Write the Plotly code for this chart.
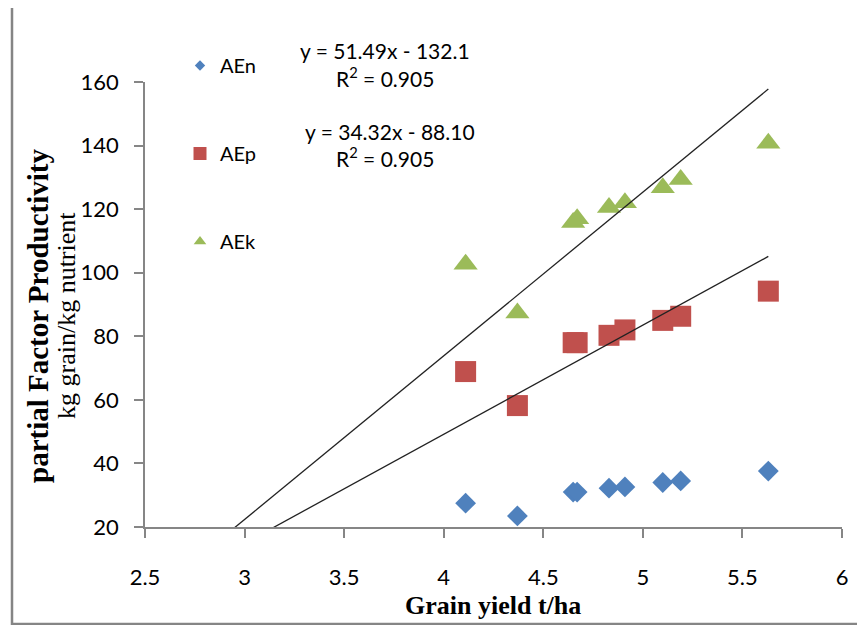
import plotly.graph_objects as go

# ---- data ----
grain_yield = [4.11, 4.37, 4.65, 4.67, 4.83, 4.91, 5.10, 5.19, 5.63]
aen = [27.5, 23.5, 31.0, 31.0, 32.2, 32.6, 34.0, 34.5, 37.6]
aep = [68.9, 58.2, 78.0, 78.0, 80.3, 82.0, 85.0, 86.3, 94.2]
aek = [102.7, 87.3, 115.8, 117.0, 120.5, 122.0, 126.7, 129.3, 140.7]

series_names = ["AEn", "AEp", "AEk"]
trend_slopes = [51.49, 34.32]
trend_intercepts = [-132.1, -88.10]
trend_r2 = [0.905, 0.905]
trend_x_span = [2.9, 5.63]

x_ticks = [2.5, 3, 3.5, 4, 4.5, 5, 5.5, 6]
y_ticks = [20, 40, 60, 80, 100, 120, 140, 160]

colors = ["#4F81BD", "#C0504D", "#9BBB59"]
symbols = ["diamond", "square", "triangle-up"]
sizes = [16, 21, 21]
legend_sizes = [8, 13, 11]

fig = go.Figure()

for name, vals, c, s, sz in zip(series_names, [aen, aep, aek], colors, symbols, sizes):
    fig.add_trace(go.Scatter(
        x=grain_yield, y=vals, mode="markers", name=name, showlegend=False,
        marker=dict(color=c, symbol=s, size=sz, line=dict(width=0)),
    ))

# trend lines
for m, b in zip(trend_slopes, trend_intercepts):
    xs = trend_x_span
    ys = [m * x + b for x in xs]
    fig.add_trace(go.Scatter(
        x=xs, y=ys, mode="lines", showlegend=False,
        line=dict(color="#222222", width=1.3),
    ))

# legend entries
for i, (name, c, s, sz) in enumerate(zip(series_names, colors, symbols, legend_sizes)):
    fig.add_trace(go.Scatter(
        x=[None], y=[None], mode="markers", name=name, legendgroup=name,
        marker=dict(color=c, symbol=s, size=sz, line=dict(width=0)),
    ))

OFF = 8  # page body margin
W, H = 865 - OFF, 625 - OFF
L, R, T, B = 145 - OFF, 23, 82 - OFF, 98
pw, ph = W - L - R, H - T - B

def px_x(px):
    return (px - OFF - L) / pw

def px_y(py):
    return (H - B - (py - OFF)) / ph

eq_font = dict(family="Lato, Calibri, sans-serif", size=21, color="#000000")
annotations = []
for i, (m, b, r2) in enumerate(zip(trend_slopes, trend_intercepts, trend_r2)):
    y_eq = [50.7, 131.7][i]
    y_r2 = [76.7, 156.7][i]
    x_eq = [385, 390][i]
    sign = "-" if b < 0 else "+"
    bstr = f"{abs(b):.1f}" if i == 0 else f"{abs(b):.2f}"
    annotations.append(dict(text=f"y = {m:.2f}x {sign} {bstr}", x=px_x(x_eq), y=px_y(y_eq),
                            xref="paper", yref="paper", showarrow=False, font=eq_font,
                            xanchor="center", yanchor="middle"))
    annotations.append(dict(text=f"R<sup>2</sup> = {r2:.3f}", x=px_x(385), y=px_y(y_r2),
                            xref="paper", yref="paper", showarrow=False, font=eq_font,
                            xanchor="center", yanchor="middle"))

annotations.append(dict(text="<b>partial Factor Productivity</b>", x=px_x(38), y=px_y(316),
                        xref="paper", yref="paper", showarrow=False, textangle=-90,
                        font=dict(family="Liberation Serif, Times New Roman, serif", size=29, color="#000"),
                        xanchor="center", yanchor="middle"))
annotations.append(dict(text="kg grain/kg nutrient", x=px_x(66), y=px_y(316),
                        xref="paper", yref="paper", showarrow=False, textangle=-90,
                        font=dict(family="Liberation Serif, Times New Roman, serif", size=26, color="#000"),
                        xanchor="center", yanchor="middle"))
annotations.append(dict(text="<b>Grain yield t/ha</b>", x=px_x(493), y=px_y(605),
                        xref="paper", yref="paper", showarrow=False,
                        font=dict(family="Liberation Serif, Times New Roman, serif", size=26, color="#000"),
                        xanchor="center", yanchor="middle"))

axis_common = dict(
    showgrid=False, zeroline=False, showline=True, linecolor="#868686", linewidth=1.5,
    ticks="outside", ticklen=9, tickwidth=1.5, tickcolor="#868686",
    tickfont=dict(family="Lato, Calibri, sans-serif", size=22, color="#000"),
)

fig.update_layout(
    width=W, height=H,
    margin=dict(l=L, r=R, t=T, b=B),
    paper_bgcolor="white", plot_bgcolor="white",
    xaxis=dict(range=[2.5, 6], tickvals=x_ticks, ticklabelstandoff=21, **axis_common),
    yaxis=dict(range=[20, 160], tickvals=y_ticks, ticklabelstandoff=11, **axis_common),
    legend=dict(x=px_x(180), y=px_y(46), xanchor="left", yanchor="top",
                font=dict(family="Lato, Calibri, sans-serif", size=20, color="#000"),
                traceorder="grouped", tracegroupgap=59, bgcolor="rgba(0,0,0,0)"),
    annotations=annotations,
    shapes=[dict(type="rect", xref="paper", yref="paper",
                 x0=px_x(12), x1=px_x(875), y0=px_y(624), y1=px_y(4),
                 line=dict(color="#858585", width=2.5), fillcolor="rgba(0,0,0,0)")],
    showlegend=True,
)

fig.write_html("out.html")
